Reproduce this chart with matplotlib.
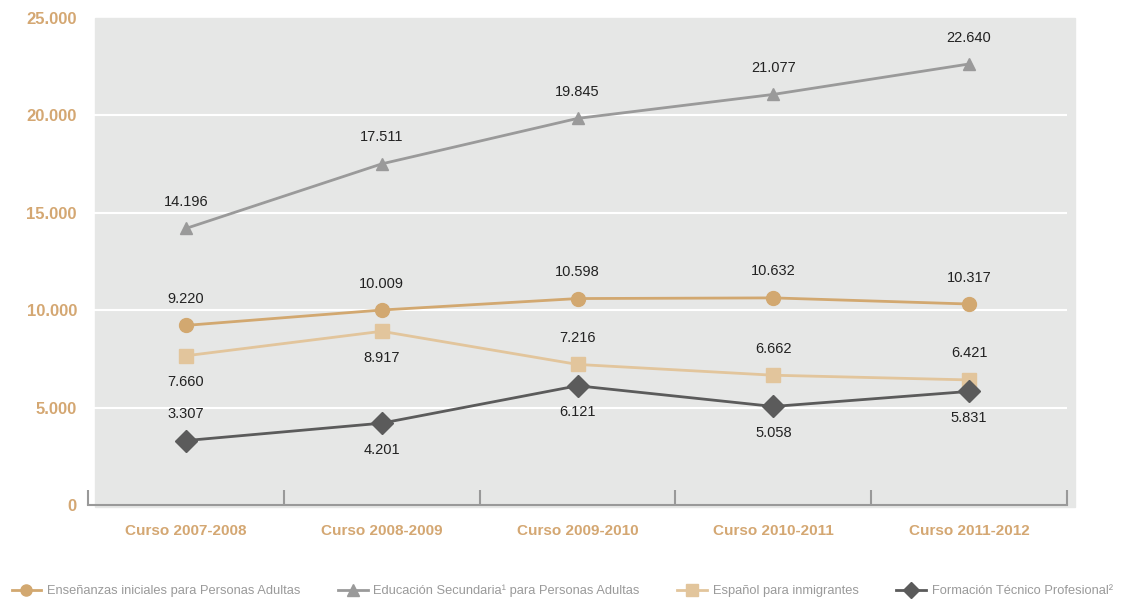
import numpy as np
import matplotlib.pyplot as plt
from matplotlib.patches import Rectangle

# Datos
cursos = ['Curso 2007-2008', 'Curso 2008-2009', 'Curso 2009-2010', 'Curso 2010-2011', 'Curso 2011-2012']
ensenanzas = [9220, 10009, 10598, 10632, 10317]
secundaria = [14196, 17511, 19845, 21077, 22640]
espanol = [7660, 8917, 7216, 6662, 6421]
formacion = [3307, 4201, 6121, 5058, 5831]

nombres = ['Enseñanzas iniciales para Personas Adultas',
           'Educación Secundaria¹ para Personas Adultas',
           'Español para inmigrantes',
           'Formación Técnico Profesional²']

# posicion de etiquetas: 1 arriba, -1 abajo
pos_ens = [1, 1, 1, 1, 1]
pos_sec = [1, 1, 1, 1, 1]
pos_esp = [-1, -1, 1, 1, 1]
pos_for = [1, -1, -1, -1, -1]

c_ens = '#d2a870'
c_sec = '#9a9a9a'
c_esp = '#e2c59c'
c_for = '#5b5b5b'
c_tick = '#d4a772'

plt.rcParams['font.family'] = ['Liberation Sans', 'DejaVu Sans']

W, H = 1130, 599
fig = plt.figure(figsize=(W / 100, H / 100), dpi=100)
ax = fig.add_axes([88 / W, 1 - 505 / H, (1067 - 88) / W, 487 / H])
ax.patch.set_visible(False)
ax.set_zorder(2)

# fondo gris (algo desplazado a la derecha como en el original)
fig.patches.append(Rectangle((95 / W, 1 - 507 / H), 980 / W, 489 / H,
                             transform=fig.transFigure, color='#e6e7e6', zorder=-5))

x = np.arange(len(cursos))
for yv in [5000, 10000, 15000, 20000]:
    ax.plot([-0.465, 4.5], [yv, yv], color='white', lw=1.5, zorder=1)

series = [
    (ensenanzas, c_ens, 'o', 10, pos_ens),
    (secundaria, c_sec, '^', 9, pos_sec),
    (espanol, c_esp, 's', 10, pos_esp),
    (formacion, c_for, 'D', 11, pos_for),
]
for (vals, col, mk, ms, pos), nombre in zip(series, nombres):
    ax.plot(x, vals, color=col, marker=mk, markersize=ms, lw=2, label=nombre,
            markeredgecolor=col, zorder=3)
    for xi, v, p in zip(x, vals, pos):
        ax.annotate(f'{v:,}'.replace(',', '.'), (xi, v), xytext=(0, 14 * p),
                    textcoords='offset points', ha='center',
                    va='bottom' if p > 0 else 'top', fontsize=10.5, color='#222222')

ax.set_xlim(-0.5, 4.5)
ax.set_ylim(0, 25000)
ax.set_yticks([0, 5000, 10000, 15000, 20000, 25000])
ax.set_yticklabels(['0', '5.000', '10.000', '15.000', '20.000', '25.000'])
ax.set_xticks(x)
ax.set_xticklabels(cursos)
ax.set_xticks(np.arange(-0.5, 5, 1), minor=True)
for s in ['left', 'right', 'top']:
    ax.spines[s].set_visible(False)
ax.spines['bottom'].set_color('#999999')
ax.spines['bottom'].set_linewidth(1.5)
ax.tick_params(axis='x', which='major', length=0, pad=14)
ax.tick_params(axis='x', which='minor', direction='in', length=11, width=1.5, color='#999999')
ax.tick_params(axis='y', length=0, pad=8)
for lab in ax.get_yticklabels():
    lab.set_color(c_tick)
    lab.set_fontweight('bold')
    lab.set_fontsize(12)
for lab in ax.get_xticklabels():
    lab.set_color(c_tick)
    lab.set_fontweight('bold')
    lab.set_fontsize(11)

leg = fig.legend(loc='center left', bbox_to_anchor=(0.0, 1 - 591 / H), ncol=4,
                 frameon=False, handlelength=2.3, columnspacing=2.9, handletextpad=0.45,
                 fontsize=9.3, labelcolor='#9a9a9a')
for h in leg.legend_handles:
    h.set_markersize(8)

fig.savefig('out.png', dpi=100)
